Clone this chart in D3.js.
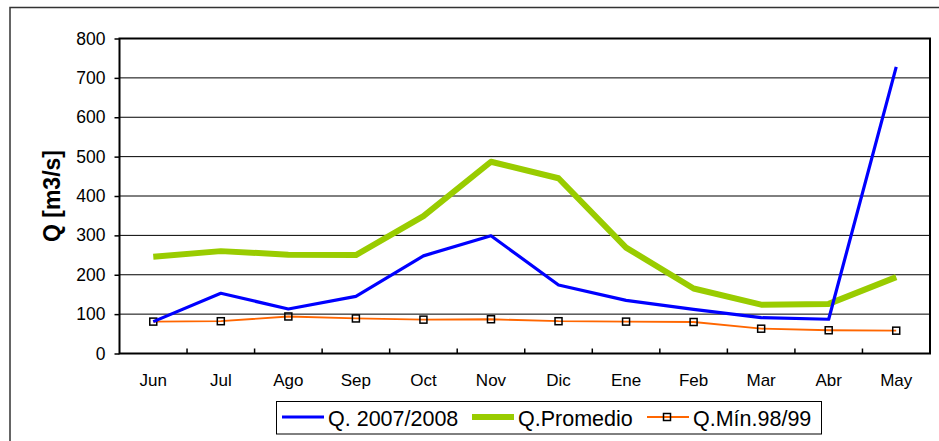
<!DOCTYPE html>
<html>
<head>
<meta charset="utf-8">
<script src="https://cdn.jsdelivr.net/npm/d3@7"></script>
<style>
  body { margin: 0; background: #fff; }
  svg { display: block; font-family: "Liberation Sans", Arial, sans-serif; }
</style>
</head>
<body>
<svg id="chart" width="939" height="441"></svg>
<script>
var months = ["Jun", "Jul", "Ago", "Sep", "Oct", "Nov", "Dic", "Ene", "Feb", "Mar", "Abr", "May"];
var q0708 = [81, 153, 113, 145, 248, 299, 174, 135, 112, 91, 87, 728];
var qProm = [246, 260, 251, 250, 349, 487, 445, 269, 165, 124, 126, 194];
var qMin = [81, 82, 94, 89, 86, 87, 82, 81, 80, 63, 59, 58];
var yTicks = [0, 100, 200, 300, 400, 500, 600, 700, 800];

var series = [
  { name: "Q. 2007/2008", values: q0708, color: "#0000ff", width: 3.2, marker: false },
  { name: "Q.Promedio", values: qProm, color: "#99cc00", width: 6, marker: false },
  { name: "Q.Mín.98/99", values: qMin, color: "#ff6600", width: 1.8, marker: true }
];

var svg = d3.select("#chart");
var pLeft = 119.5, pRight = 930, pTop = 38.5, pBottom = 353.5;

// outer chart frame
svg.append("rect")
  .attr("x", 10).attr("y", 7.5)
  .attr("width", 1000).attr("height", 500)
  .attr("fill", "#fff").attr("stroke", "#333").attr("stroke-width", 1.5);

var x = d3.scaleBand().domain(months).range([pLeft, pRight]);
var y = d3.scaleLinear().domain([0, 800]).range([pBottom, pTop]);
var cx = function(i) { return x(months[i]) + x.bandwidth() / 2; };

// gridlines
svg.append("g").selectAll("line")
  .data(yTicks.filter(function(d) { return d > 0 && d < 800; }))
  .join("line")
  .attr("x1", pLeft).attr("x2", pRight)
  .attr("y1", function(d) { return y(d); }).attr("y2", function(d) { return y(d); })
  .attr("stroke", "#000").attr("stroke-width", 1);

// y axis
var yAxis = svg.append("g")
  .attr("transform", "translate(" + pLeft + ",0)")
  .call(d3.axisLeft(y).tickValues(yTicks).tickSize(5).tickPadding(9));
yAxis.select(".domain").remove();
yAxis.selectAll("line").attr("stroke", "#000").attr("stroke-width", 1.5);
yAxis.selectAll("text").attr("font-size", 17.5).attr("fill", "#000")
  .attr("font-family", "Liberation Sans, Arial, sans-serif");

// x axis: tick marks at category boundaries pointing inward
var bounds = months.slice(1).map(function(m) { return x(m); });
svg.append("g").selectAll("line")
  .data(bounds)
  .join("line")
  .attr("x1", function(d) { return d; }).attr("x2", function(d) { return d; })
  .attr("y1", pBottom).attr("y2", pBottom - 5)
  .attr("stroke", "#000").attr("stroke-width", 1.5);

svg.append("g").selectAll("text")
  .data(months)
  .join("text")
  .attr("x", function(d, i) { return cx(i); })
  .attr("y", 386)
  .attr("text-anchor", "middle")
  .attr("font-size", 17)
  .text(function(d) { return d; });

// plot frame
svg.append("rect")
  .attr("x", pLeft).attr("y", pTop)
  .attr("width", pRight - pLeft).attr("height", pBottom - pTop)
  .attr("fill", "none").attr("stroke", "#000").attr("stroke-width", 2);

// y title
svg.append("text")
  .attr("transform", "translate(60,196) rotate(-90)")
  .attr("text-anchor", "middle")
  .attr("font-size", 23).attr("font-weight", "bold")
  .text("Q [m3/s]");

// lines
var line = d3.line()
  .x(function(d, i) { return cx(i); })
  .y(function(d) { return y(d); });

var order = [series[2], series[1], series[0]];
order.forEach(function(s) {
  svg.append("path")
    .datum(s.values)
    .attr("d", line)
    .attr("fill", "none")
    .attr("stroke", s.color)
    .attr("stroke-width", s.width)
    .attr("stroke-linejoin", "round");
  if (s.marker) {
    svg.append("g").selectAll("rect")
      .data(s.values)
      .join("rect")
      .attr("x", function(d, i) { return cx(i) - 3.5; })
      .attr("y", function(d) { return y(d) - 3.5; })
      .attr("width", 7).attr("height", 7)
      .attr("fill", "none").attr("stroke", "#000").attr("stroke-width", 1.5);
  }
});

// legend
var legend = svg.append("g");
legend.append("rect")
  .attr("x", 276.5).attr("y", 401.5)
  .attr("width", 545).attr("height", 32.5)
  .attr("fill", "#fff").attr("stroke", "#000").attr("stroke-width", 1);

var legX = [282, 472, 647];
series.forEach(function(s, i) {
  var g = legend.append("g").attr("transform", "translate(" + legX[i] + ",417)");
  g.append("line")
    .attr("x1", 0).attr("x2", 42).attr("y1", 0).attr("y2", 0)
    .attr("stroke", s.color).attr("stroke-width", s.width);
  if (s.marker) {
    g.append("rect")
      .attr("x", 16.5).attr("y", -3.5).attr("width", 7).attr("height", 7)
      .attr("fill", "none").attr("stroke", "#000").attr("stroke-width", 1.5);
  }
  g.append("text")
    .attr("x", 46).attr("y", 8.5)
    .attr("font-size", 21.5)
    .text(s.name);
});
</script>
</body>
</html>
